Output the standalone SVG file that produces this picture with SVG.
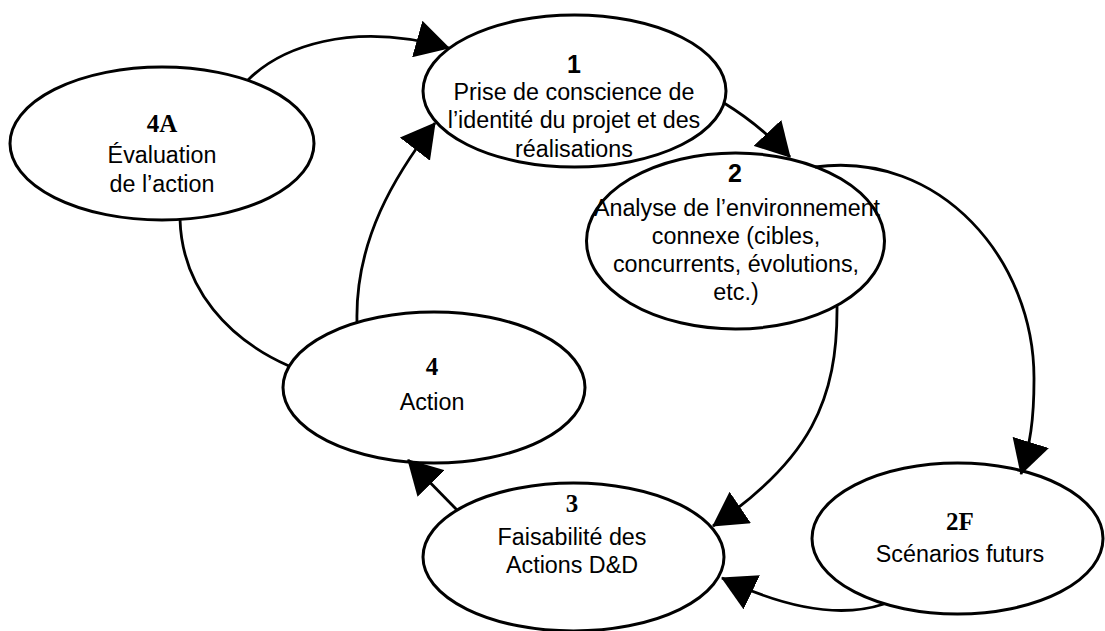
<svg xmlns="http://www.w3.org/2000/svg" width="1105" height="631" viewBox="0 0 1105 631">
<style>
.node{fill:#fff;stroke:#000;stroke-width:3}
.t{font-family:"Liberation Sans",Arial,sans-serif;font-size:23.3px;text-anchor:middle;fill:#000}
.ns{font-family:"Liberation Sans",Arial,sans-serif;font-size:25px;font-weight:bold;text-anchor:middle;fill:#000}
.nf{font-family:"Liberation Serif","Times New Roman",serif;font-size:25px;font-weight:bold;text-anchor:middle;fill:#000}
.c{fill:none;stroke:#000;stroke-width:2.8}
</style>
<defs>
<marker id="ah" markerUnits="userSpaceOnUse" viewBox="0 0 34 38" markerWidth="34" markerHeight="38" refX="33" refY="19" orient="auto">
<path d="M0,0 L34,19 L0,38 z" fill="#000"/>
</marker>
</defs>
<g id="n4A">
<ellipse class="node" cx="162" cy="143.5" rx="152" ry="76.5"/>
<text class="nf" x="162" y="132">4A</text>
<text class="t" x="162" y="163">Évaluation</text>
<text class="t" x="162" y="192">de l’action</text>
</g>
<g id="n1">
<ellipse class="node" cx="574.5" cy="91" rx="151.5" ry="76"/>
<text class="ns" x="574" y="73">1</text>
<text class="t" x="574" y="100">Prise de conscience de</text>
<text class="t" x="574" y="128">l’identité du projet et des</text>
<text class="t" x="574" y="157">réalisations</text>
</g>
<g id="n2">
<ellipse class="node" cx="735.5" cy="241" rx="149" ry="88"/>
<text class="ns" x="735" y="182">2</text>
<text class="t" x="737" y="216">Analyse de l’environnement</text>
<text class="t" x="736" y="244">connexe (cibles,</text>
<text class="t" x="736" y="272">concurrents, évolutions,</text>
<text class="t" x="736" y="300">etc.)</text>
</g>
<g id="n4">
<ellipse class="node" cx="434" cy="387.5" rx="151" ry="75.5"/>
<text class="nf" x="432" y="375">4</text>
<text class="t" x="432" y="410">Action</text>
</g>
<g id="n3">
<ellipse class="node" cx="573.5" cy="557" rx="150.5" ry="74"/>
<text class="nf" x="572" y="512">3</text>
<text class="t" x="572" y="545">Faisabilité des</text>
<text class="t" x="572" y="573">Actions D&amp;D</text>
</g>
<g id="n2F">
<ellipse class="node" cx="957.5" cy="538.5" rx="145.5" ry="75.5"/>
<text class="nf" x="960" y="530">2F</text>
<text class="t" x="960" y="562">Scénarios futurs</text>
</g>
<g id="connectors">
<path class="c" d="M248,80 C280,48 350,20 449,48" marker-end="url(#ah)"/>
<path class="c" d="M357,322 C355,240 395,175 435,123" marker-end="url(#ah)"/>
<path class="c" d="M724,103 Q760,125 790,157" marker-end="url(#ah)"/>
<path class="c" d="M815,167 C940,150 1035,260 1034,380 C1034,420 1030,445 1021,474" marker-end="url(#ah)"/>
<path class="c" d="M837,305 C838,400 810,460 713,526" marker-end="url(#ah)"/>
<path class="c" d="M884,604 Q820,625 722,578" marker-end="url(#ah)"/>
<path class="c" d="M457,510 L408,460" marker-end="url(#ah)"/>
<path class="c" d="M180,219 C182,290 230,340 289,366"/>
</g>
</svg>
